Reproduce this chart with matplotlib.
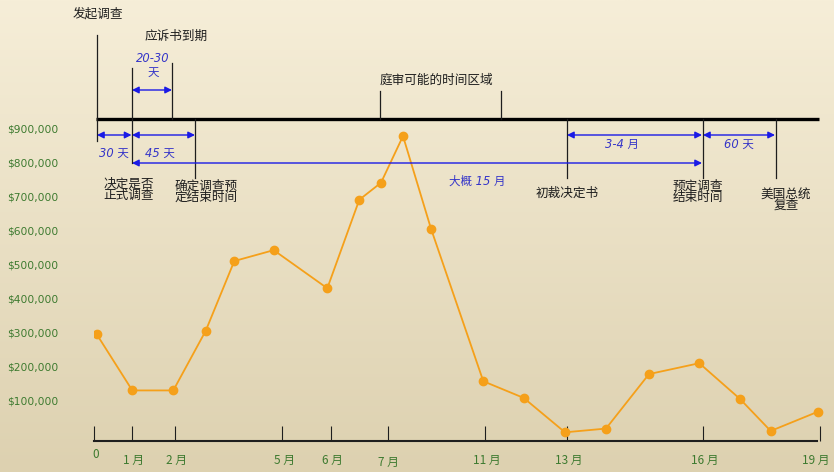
import numpy as np
import matplotlib
matplotlib.use("Agg")
import matplotlib.pyplot as plt
import matplotlib.transforms as mtransforms

plt.rcParams['font.family'] = ['Noto Sans CJK SC', 'DejaVu Sans']

# timeline ticks (position along the drawn axis) and their labels
tick_pos = [94, 131.7, 174.5, 282, 330.5, 387.5, 484.5, 566.5, 702.5, 819.5]
tick_labels = ["0", "1 月", "2 月", "5 月", "6 月", "7 月", "11 月", "13 月", "16 月", "19 月"]

# series: position along the axis and dollar value
point_x = [96.7, 132.3, 173.3, 205.7, 234.3, 273.7, 327.3, 359.3, 381, 403,
           431, 483.3, 523.7, 565, 606, 649, 699.3, 740, 770.7, 818.3]
point_y = [295000, 130000, 130000, 305000, 510000, 542000, 430000, 690000, 740000, 877000,
           605000, 157000, 108000, 7000, 18000, 178000, 210000, 105000, 11000, 68000]

y_ticks = [100000, 200000, 300000, 400000, 500000, 600000, 700000, 800000, 900000]

GREEN = "#3d7a2f"
BLUE = "#1a1ae6"
BLUE_TXT = "#3535c8"
ORANGE = "#f5a01a"
INK = "#1e1e1e"

W, H = 834, 472
fig = plt.figure(figsize=(W / 100, H / 100), dpi=100)

# background gradient
bg = fig.add_axes([0, 0, 1, 1], zorder=-2)
top = np.array([246, 238, 216]) / 255
bot = np.array([221, 209, 176]) / 255
t = np.linspace(0, 1, 256)[:, None]
grad = top + (bot - top) * t
bg.imshow(grad[:, None, :].repeat(2, axis=1), aspect="auto", extent=[0, 1, 0, 1])
bg.axis("off")

# main chart axes (x in px along the timeline, y in dollars)
left = 94
ax = fig.add_axes([left / W, 0, 1 - left / W, 1])
ax.patch.set_alpha(0)
ax.set_xlim(left, W)
px_per_unit = 34.05 / 100000
y0 = 434.7
ax.set_ylim(-(H - y0) / px_per_unit, y0 / px_per_unit)

ax.plot(point_x, point_y, color=ORANGE, lw=1.3, marker="o", ms=6,
        mfc=ORANGE, mec=ORANGE, zorder=3)

for s in ["top", "right", "left"]:
    ax.spines[s].set_visible(False)
ax.spines["bottom"].set_position(("data", -18500))
ax.spines["bottom"].set_bounds(94, 817)
ax.spines["bottom"].set_linewidth(1.5)
ax.spines["bottom"].set_color(INK)

ax.set_xticks(tick_pos)
ax.set_xticklabels(tick_labels)
ax.tick_params(axis="x", direction="in", length=10.5, width=0.8, color=INK,
               labelcolor=GREEN, labelsize=8.5, pad=9.5)
shifts = {"0": (1.5, 4.5), "7 月": (1, -1.5), "19 月": (-3, 0)}
for lab in ax.get_xticklabels():
    dx, dy = shifts.get(lab.get_text(), (1.5, 0))
    lab.set_transform(lab.get_transform() +
                      mtransforms.ScaledTranslation(dx / 72, dy / 72, fig.dpi_scale_trans))

ax.set_yticks(y_ticks)
ax.set_yticklabels([f"${v:,.0f}" for v in y_ticks])
ax.tick_params(axis="y", length=0, labelcolor=GREEN, labelsize=7.7, pad=26)
for lab in ax.get_yticklabels():
    lab.set_family(["DejaVu Sans"])

# timeline overlay in pixel space
tl = fig.add_axes([0, 0, 1, 1], zorder=5)
tl.set_xlim(0, W)
tl.set_ylim(H, 0)
tl.axis("off")

tl.plot([96, 819], [119, 119], color="black", lw=2.4, solid_capstyle="butt")

vlines = [(97, 35, 141), (131.7, 68, 163), (172, 63, 119), (195.3, 119, 178),
          (380, 91, 119), (501, 91, 119), (566.7, 119, 178), (702.7, 119, 178),
          (776, 119, 178)]
for x, y1, y2 in vlines:
    tl.plot([x, x], [y1, y2], color=INK, lw=0.9)

def span(x1, x2, y):
    tl.annotate("", xy=(x2, y), xytext=(x1, y),
                arrowprops=dict(arrowstyle="<|-|>", color=BLUE, lw=1,
                                mutation_scale=10, shrinkA=0, shrinkB=0))

span(132, 172, 90)
span(97, 131.5, 135)
span(132, 195, 135)
span(132, 702, 163)
span(567, 702, 135)
span(703, 775, 135)

def blue(x, y, s):
    tl.text(x, y, s, color=BLUE_TXT, fontsize=8.3, style="italic",
            ha="center", va="center", family=["DejaVu Sans", "Noto Sans CJK SC"])

blue(153, 59, "20-30")
blue(153, 73, "天")
blue(114, 153, "30 天")
blue(160, 153, "45 天")
blue(477, 181, "大概 15 月")
blue(622, 144, "3-4 月")
blue(739, 144, "60 天")

def label(x, y, lines, step=11.5):
    for i, s in enumerate(lines):
        tl.text(x, y + i * step, s, color=INK, fontsize=9.1,
                ha="center", va="center")

label(98, 14, ["发起调查"])
label(176, 36, ["应诉书到期"])
label(436, 80, ["庭审可能的时间区域"])
label(129, 184, ["决定是否", "正式调查"])
label(206, 186, ["确定调查预", "定结束时间"])
label(567.5, 193, ["初裁决定书"])
label(698, 186, ["预定调查", "结束时间"])
label(786, 194, ["美国总统", "复查"])

fig.savefig("out.png", dpi=100)
